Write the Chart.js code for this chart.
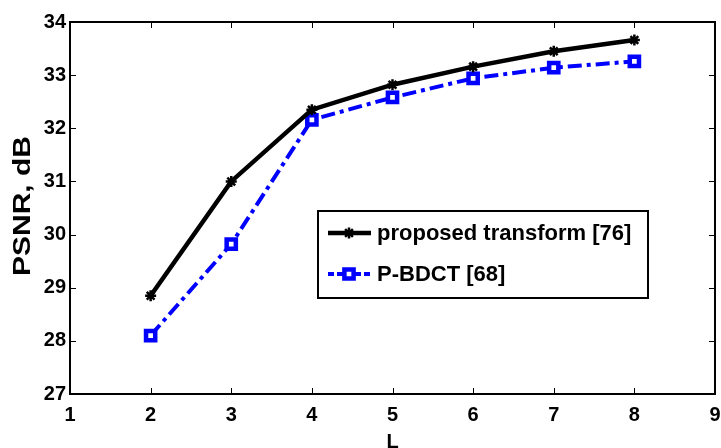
<!DOCTYPE html>
<html>
<head>
<meta charset="utf-8">
<script src="https://cdn.jsdelivr.net/npm/chart.js@4.4.1/dist/chart.umd.min.js"></script>
<style>
  html, body { margin: 0; padding: 0; background: #fff; overflow: hidden; }
  #wrap { width: 721px; height: 448px; overflow: hidden; }
</style>
</head>
<body>
<div id="wrap"><canvas id="c" width="726" height="458"></canvas></div>
<script>
// Block size L against PSNR for the two transforms
const blockSizes = [2, 3, 4, 5, 6, 7, 8];
const proposedPsnr = [28.85, 31.0, 32.35, 32.82, 33.16, 33.45, 33.66];
const pbdctPsnr = [28.1, 29.82, 32.16, 32.58, 32.94, 33.14, 33.26];
const seriesNames = ['proposed transform [76]', 'P-BDCT [68]'];
const xTicks = [1, 2, 3, 4, 5, 6, 7, 8, 9];
const yTicks = [27, 28, 29, 30, 31, 32, 33, 34];
const xTitle = 'L';
const yTitle = 'PSNR, dB';

const FONT = "'Liberation Sans', Arial, sans-serif";
const BLUE = '#0000ff';

const toPoints = (xs, ys) => xs.map((x, i) => ({ x: x, y: ys[i] }));

// Box frame, inward tick marks, rotated y title and the boxed legend
const framePlugin = {
  id: 'frame',
  afterDraw(chart) {
    const { ctx, chartArea: a, scales } = chart;
    const xs = scales.x, ys = scales.y;
    ctx.save();
    ctx.strokeStyle = '#000';
    ctx.lineWidth = 2;
    ctx.beginPath();
    ctx.moveTo(a.left, a.top); ctx.lineTo(a.right, a.top); ctx.lineTo(a.right, a.bottom);
    ctx.stroke();

    ctx.lineWidth = 1;
    const tl = 6;
    ctx.beginPath();
    xTicks.forEach(v => {
      const px = Math.round(xs.getPixelForValue(v)) + 0.5;
      ctx.moveTo(px, a.bottom); ctx.lineTo(px, a.bottom - tl);
      ctx.moveTo(px, a.top); ctx.lineTo(px, a.top + tl);
    });
    yTicks.forEach(v => {
      const py = Math.round(ys.getPixelForValue(v)) + 0.5;
      ctx.moveTo(a.left, py); ctx.lineTo(a.left + tl, py);
      ctx.moveTo(a.right, py); ctx.lineTo(a.right - tl, py);
    });
    ctx.stroke();

    // y axis title, widened along its run
    ctx.save();
    ctx.translate(23, (a.top + a.bottom) / 2 - 2);
    ctx.rotate(-Math.PI / 2);
    ctx.scale(1.25, 1);
    ctx.fillStyle = '#000';
    ctx.font = 'bold 24px ' + FONT;
    ctx.textAlign = 'center';
    ctx.textBaseline = 'middle';
    ctx.fillText(yTitle, 0, 0);
    ctx.restore();

    // legend
    const L = { left: 318, top: 211, right: 648, bottom: 298 };
    ctx.fillStyle = '#fff';
    ctx.fillRect(L.left, L.top, L.right - L.left, L.bottom - L.top);
    ctx.strokeStyle = '#000';
    ctx.lineWidth = 2;
    ctx.strokeRect(L.left, L.top, L.right - L.left, L.bottom - L.top);

    const rows = [233, 274];
    chart.data.datasets.forEach((ds, i) => {
      const y = rows[i];
      ctx.save();
      ctx.strokeStyle = ds.borderColor;
      ctx.lineWidth = ds.borderWidth;
      ctx.setLineDash(i === 0 ? [] : [6, 3]);
      ctx.beginPath();
      ctx.moveTo(328, y); ctx.lineTo(371, y);
      ctx.stroke();
      ctx.restore();
      ctx.save();
      ctx.strokeStyle = ds.pointBorderColor;
      ctx.fillStyle = ds.pointBackgroundColor;
      ctx.lineWidth = ds.pointBorderWidth;
      ctx.beginPath();
      if (ds.pointStyle === 'rect') {
        const s = Math.SQRT1_2 * ds.pointRadius;
        ctx.rect(349 - s, y - s, 2 * s, 2 * s);
        ctx.fill();
        ctx.stroke();
      } else {
        const r = ds.pointRadius;
        for (let k = 0; k < 4; k++) {
          const ang = k * Math.PI / 4;
          ctx.moveTo(349 - r * Math.cos(ang), y - r * Math.sin(ang));
          ctx.lineTo(349 + r * Math.cos(ang), y + r * Math.sin(ang));
        }
        ctx.stroke();
      }
      ctx.restore();
      ctx.fillStyle = '#000';
      ctx.font = 'bold 22px ' + FONT;
      ctx.textAlign = 'left';
      ctx.textBaseline = 'middle';
      ctx.fillText(ds.label, 377, y + 1);
    });
    ctx.restore();
  }
};

new Chart(document.getElementById('c'), {
  type: 'line',
  data: {
    datasets: [
      {
        label: seriesNames[0],
        data: toPoints(blockSizes, proposedPsnr),
        borderColor: '#000',
        borderWidth: 4.5,
        pointStyle: 'star',
        pointRadius: 5.5,
        pointBorderWidth: 2.5,
        pointBorderColor: '#000',
        pointBackgroundColor: '#000',
        tension: 0
      },
      {
        label: seriesNames[1],
        data: toPoints(blockSizes, pbdctPsnr),
        borderColor: BLUE,
        borderWidth: 4,
        borderDash: [14, 5, 4, 5],
        pointStyle: 'rect',
        pointRadius: 6.5,
        pointBorderWidth: 4.5,
        pointBorderColor: BLUE,
        pointBackgroundColor: '#fff',
        tension: 0
      }
    ]
  },
  options: {
    responsive: false,
    animation: false,
    layout: { padding: { left: 0, top: 22, right: 1, bottom: 0 } },
    plugins: {
      legend: { display: false },
      tooltip: { enabled: false }
    },
    scales: {
      x: {
        type: 'linear',
        min: 1, max: 9,
        afterFit(s) { s.height = 64; s.paddingLeft = 0; s.paddingRight = 0; },
        afterBuildTicks(s) { s.ticks = xTicks.map(v => ({ value: v })); },
        grid: { display: false, drawTicks: false },
        border: { display: true, color: '#000', width: 2 },
        ticks: {
          padding: 9,
          color: '#000',
          font: { family: FONT, size: 20, weight: 'bold' }
        },
        title: {
          display: true,
          text: xTitle,
          color: '#000',
          padding: { top: 4, bottom: 4 },
          font: { family: FONT, size: 20, weight: 'bold' }
        }
      },
      y: {
        type: 'linear',
        min: 27, max: 34,
        afterFit(s) { s.width = 70; s.paddingTop = 0; s.paddingBottom = 0; },
        afterBuildTicks(s) { s.ticks = yTicks.map(v => ({ value: v })); },
        grid: { display: false, drawTicks: false },
        border: { display: true, color: '#000', width: 2 },
        ticks: {
          padding: 4,
          color: '#000',
          font: { family: FONT, size: 20, weight: 'bold' }
        }
      }
    }
  },
  plugins: [framePlugin]
});
</script>
</body>
</html>
